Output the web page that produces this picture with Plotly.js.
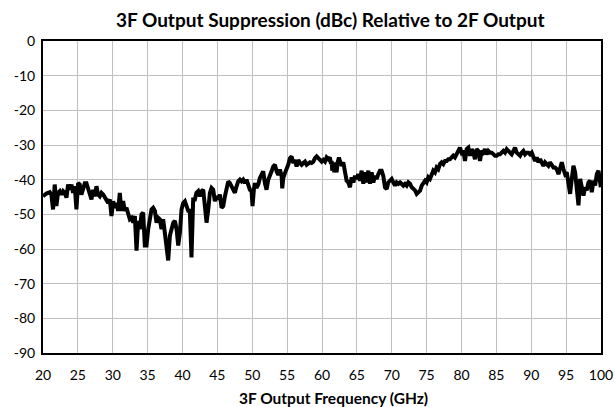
<!DOCTYPE html>
<html>
<head>
<meta charset="utf-8">
<script src="https://cdn.plot.ly/plotly-3.0.1.min.js"></script>
<style>html,body{margin:0;padding:0;background:#fff;}#chart{width:615px;height:407px;}</style>
</head>
<body>
<div id="chart"></div>
<script>
const freqGHz = [
20.0,20.25,20.49,20.73,20.97,21.2,21.44,21.68,21.92,22.16,22.4,22.64,22.88,23.12,23.36,23.6,23.84,24.08,24.31,24.55,24.79,25.03,25.27,25.51,25.75,25.99,26.23,26.47,26.71,26.95,27.19,27.42,27.66,27.9,28.14,28.38,28.62,28.86,29.1,29.34,29.58,29.82,30.06,30.3,30.53,30.77,31.01,31.25,31.49,31.73,31.97,32.21,32.45,32.69,32.93,
33.17,33.41,33.65,33.88,34.12,34.36,34.6,34.84,35.08,35.32,35.56,35.8,36.04,36.28,36.52,36.75,36.99,37.23,37.47,37.71,37.95,38.19,38.43,38.67,38.91,39.15,39.39,39.63,39.86,40.1,40.34,40.58,40.82,41.05,41.29,41.53,41.77,42.0,42.25,42.49,42.73,42.97,43.2,43.45,43.69,43.93,44.16,44.4,44.64,44.88,45.12,45.36,45.6,45.84,46.08,46.32,46.56,46.8,
47.03,47.27,47.51,47.75,47.99,48.23,48.46,48.7,48.94,49.18,49.42,49.66,49.9,50.04,50.23,50.38,50.62,50.86,51.1,51.34,51.57,51.81,52.05,52.29,52.53,52.77,53.01,53.25,53.49,53.73,53.97,54.21,54.3,54.45,54.69,54.92,55.16,55.4,55.64,55.88,56.12,56.36,56.6,56.84,57.08,57.32,57.56,57.8,58.03,58.27,58.51,58.75,58.99,59.23,59.47,59.71,59.95,60.19,60.43,
60.66,60.9,61.14,61.28,61.38,61.47,61.62,61.76,61.86,62.09,62.24,62.43,62.57,62.81,63.05,63.29,63.53,63.77,64.01,64.25,64.49,64.73,64.97,65.2,65.44,65.68,65.92,66.16,66.4,66.64,66.88,67.12,67.36,67.6,67.84,68.08,68.31,68.55,68.79,69.03,69.27,69.51,69.75,69.99,70.23,70.47,70.71,70.95,71.19,71.42,71.66,71.9,72.14,72.38,72.62,72.86,73.1,73.34,73.58,73.82,74.06,74.3,74.53,74.77,
75.0,75.24,75.48,75.71,75.95,76.19,76.43,76.67,76.91,77.15,77.39,77.63,77.87,78.11,78.35,78.59,78.82,79.06,79.3,79.54,79.78,80.02,80.26,80.5,80.74,80.98,81.22,81.46,81.7,81.93,82.17,82.41,82.65,82.89,83.13,83.37,83.61,83.85,84.09,84.33,84.57,84.81,85.04,85.28,85.52,85.76,86.0,86.24,86.48,86.72,
86.96,87.2,87.44,87.68,87.92,88.16,88.4,88.63,88.87,89.11,89.35,89.59,89.83,90.07,90.31,90.55,90.79,91.03,91.27,91.51,91.74,91.98,92.22,92.46,92.7,92.94,93.18,93.42,93.66,93.9,94.14,94.38,94.62,94.85,95.09,95.33,95.57,95.81,96.05,96.29,96.53,96.77,97.01,97.25,97.49,97.73,97.96,98.2,98.44,98.68,98.92,99.16,99.4,99.64,99.88,99.97
];
const suppressionDBc = [
-44.8,-44.3,-44,-43.8,-43.6,-44.3,-48.6,-41.4,-47.6,-43.8,-43.3,-44.3,-43.3,-43.8,-45.2,-41.4,-42.9,-41.4,-43.8,-41.9,-48.6,-41,-41.4,-44.3,-42.4,-41,-41,-42.4,-43.8,-45.7,-42.9,-44.8,-41.9,-44.3,-44.8,-43.8,-44.3,-45.2,-45.7,-46.7,-45.7,-50.5,-46.2,-48.1,-46.7,-49,-43.8,-49,-46.2,-49,-48.1,-49.5,-51.4,-51,-52.4,
-50.5,-60.5,-51.9,-54.3,-50,-49.5,-59,-59,-54.3,-50.5,-48.6,-48.1,-49,-52.4,-51,-51.4,-54.3,-51.4,-55.2,-60,-63.3,-56.2,-54.3,-52.4,-51.9,-54.3,-59,-55.2,-48.6,-46.7,-46.2,-48.1,-49,-49,-62.4,-45.7,-45.7,-43.8,-43.3,-44.8,-43.3,-42.9,-46.7,-52.4,-48.6,-43.8,-42.4,-42.9,-46.2,-44.8,-45.7,-44.3,-48.1,-47.6,-44.8,-42.9,-40.5,-41,
-41.9,-42.9,-43.8,-41.9,-40.5,-40,-40.5,-40,-41,-40,-41.4,-42.9,-43.3,-47.6,-42.9,-41,-42.4,-41.4,-39.5,-38.1,-37.6,-41,-42.9,-40,-39,-37.6,-36.2,-35.7,-37.6,-38.6,-37.1,-39,-42.5,-39.5,-38.1,-37.1,-35.7,-33.8,-33.3,-35.2,-34.3,-36.2,-34.3,-35.2,-35.7,-35.2,-34.8,-35.7,-35.2,-35,-35.2,-34.8,-33.8,-33.3,-33.8,-34.3,-34.8,-34.3,-34.8,
-33.6,-34.1,-33.6,-35.5,-34.6,-37.4,-35,-37.9,-35,-37.9,-35,-33.6,-34.6,-36,-35,-37.9,-40.3,-40.8,-42.2,-39.3,-40.8,-38.9,-39.8,-38.4,-40.3,-37.4,-41.2,-37.9,-40.8,-37.4,-41.2,-37.9,-40.8,-38.9,-39.8,-38.4,-37.4,-37.4,-38.9,-42.2,-42.7,-40.8,-40.3,-39.8,-40.8,-41.7,-40.8,-41.2,-40.8,-41.2,-41.7,-41.2,-41.7,-40.8,-41.2,-42.2,-42.7,-43.1,-44.1,-43.6,-43.2,-41.7,-41.2,-40.3,
-40.8,-39.3,-39.8,-38.9,-37.4,-37.9,-36.5,-37,-35.5,-35,-35.5,-34.6,-34.6,-34.1,-34.1,-33.6,-33.1,-33.6,-32.7,-32.2,-30.8,-32.2,-31.7,-34.6,-31.2,-30.8,-33.1,-31.2,-32.2,-34.1,-31.2,-31.7,-34.6,-31.7,-32.2,-31.2,-32.7,-31.7,-32.2,-32.2,-32.7,-33.1,-33.1,-32.7,-32.7,-32.2,-31.7,-32.2,-31.2,-31.7,
-32.4,-32.7,-31.7,-30.8,-32.2,-32.7,-33.1,-32.2,-31.7,-32.7,-32.2,-32.2,-32.7,-32.2,-33.1,-34.6,-33.6,-35,-34.1,-35,-36,-35,-35.5,-36,-35,-36,-36.5,-36.5,-37,-38.4,-36.5,-35,-37,-38.4,-37.9,-40.8,-44.1,-39.8,-36,-37.9,-42.7,-47.4,-39.8,-41.7,-44.6,-42.2,-43.1,-40.8,-40.3,-43.6,-40.3,-41.7,-38.4,-37.4,-41.7,-42.2
];
const xTickVals = [20,25,30,35,40,45,50,55,60,65,70,75,80,85,90,95,100];
const yTickVals = [0,-10,-20,-30,-40,-50,-60,-70,-80,-90];

const FONT = 'Lato, "Open Sans", "Liberation Sans", sans-serif';
const trace = {
  x: freqGHz, y: suppressionDBc, type: 'scatter', mode: 'lines',
  line: {color: '#000000', width: 4}, hoverinfo: 'skip'
};
const layout = {
  width: 615, height: 407,
  margin: {l: 43, r: 14, t: 41, b: 54},
  paper_bgcolor: '#ffffff', plot_bgcolor: '#ffffff',
  showlegend: false,
  font: {family: FONT, size: 14, color: '#000000'},
  title: {text: '<b>3F Output Suppression (dBc) Relative to 2F Output</b>',
          font: {family: FONT, size: 19, color: '#000000'},
          x: 0.537, xanchor: 'center', y: 0.95, yanchor: 'middle'},
  xaxis: {range: [20, 100], tickvals: xTickVals, ticktext: xTickVals.map(String),
          showgrid: true, gridcolor: '#bfbfbf', gridwidth: 1, zeroline: false,
          showline: true, linecolor: '#000000', linewidth: 2, mirror: true,
          ticks: '', ticklabelstandoff: 8, tickfont: {family: FONT, size: 14, color: '#000000'}},
  yaxis: {range: [-90, 0], tickvals: yTickVals, ticktext: yTickVals.map(String),
          showgrid: true, gridcolor: '#bfbfbf', gridwidth: 1, zeroline: false,
          showline: true, linecolor: '#000000', linewidth: 2, mirror: true,
          ticks: '', ticklabelstandoff: 3, tickfont: {family: FONT, size: 14, color: '#000000'}},
  annotations: [{text: '<b>3F Output Frequency (GHz)</b>', showarrow: false,
                 xref: 'paper', yref: 'paper', x: 0.52, y: -0.145, xanchor: 'center', yanchor: 'middle',
                 font: {family: FONT, size: 15.5, color: '#000000'}}]
};
Plotly.newPlot('chart', [trace], layout, {staticPlot: true, displayModeBar: false});
</script>
</body>
</html>
